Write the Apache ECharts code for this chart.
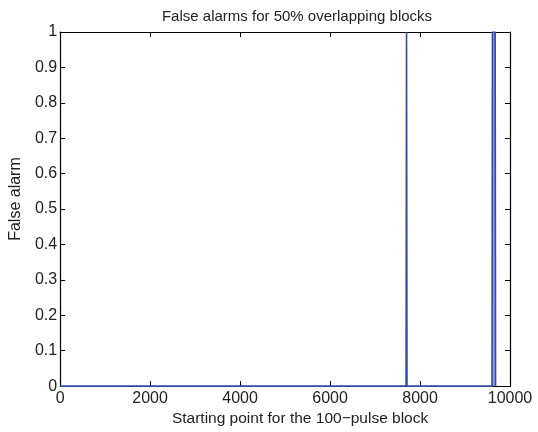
<!DOCTYPE html>
<html>
<head>
<meta charset="utf-8">
<script src="https://cdn.jsdelivr.net/npm/echarts@6/dist/echarts.min.js"></script>
<style>
  html, body { margin: 0; padding: 0; background: #fff; }
  #chart { width: 538px; height: 432px; }
</style>
</head>
<body>
<div id="chart"></div>
<script>
// Block starting points where the false-alarm flag changes
const startPoints = [0, 7690, 7700, 7710, 9600, 9610, 9670, 9680, 9690];
// False-alarm flag (0 = none, 1 = alarm) at each starting point
const falseAlarm  = [0, 0, 1, 0, 0, 1, 1, 0, 0];
const xTicks = [0, 2000, 4000, 6000, 8000, 10000];
const yTicks = [0, 0.1, 0.2, 0.3, 0.4, 0.5, 0.6, 0.7, 0.8, 0.9, 1];

const font = 'Liberation Sans, Helvetica, Arial, sans-serif';
const seriesData = startPoints.map((x, i) => [x, falseAlarm[i]]);

const chart = echarts.init(document.getElementById('chart'), null, { renderer: 'canvas' });

const boxAxis = {
  axisLine: { show: true, onZero: false, lineStyle: { color: '#000', width: 1.2 } },
  axisTick: { show: true, inside: true, length: 5, lineStyle: { color: '#000', width: 1 } },
  splitLine: { show: false }
};

chart.setOption({
  animation: false,
  backgroundColor: '#fff',
  title: {
    text: 'False alarms for 50% overlapping blocks',
    left: 292, top: 4, textAlign: 'center',
    textStyle: { fontFamily: font, fontSize: 15, fontWeight: 'normal', color: '#222' }
  },
  grid: { left: 59, right: 28, top: 32, bottom: 43, containLabel: false },
  xAxis: [
    Object.assign({
      type: 'value', position: 'bottom', min: xTicks[0], max: xTicks[xTicks.length - 1], interval: 2000,
      name: 'Starting point for the 100\u2212pulse block', nameLocation: 'middle', nameGap: 19,
      nameTextStyle: { fontFamily: font, fontSize: 15.5, color: '#222', padding: [0, 0, 0, 30] },
      axisLabel: { fontFamily: font, fontSize: 16, color: '#222', margin: 4,
        formatter: v => String(v) }
    }, boxAxis),
    Object.assign({
      type: 'value', position: 'top', min: xTicks[0], max: xTicks[xTicks.length - 1], interval: 2000,
      axisLabel: { show: false }
    }, boxAxis)
  ],
  yAxis: [
    Object.assign({
      type: 'value', position: 'left', min: yTicks[0], max: yTicks[yTicks.length - 1], interval: 0.1,
      name: 'False alarm', nameLocation: 'middle', nameGap: 32,
      nameTextStyle: { fontFamily: font, fontSize: 16, color: '#222', padding: [0, 0, 0, 20] },
      axisLabel: { fontFamily: font, fontSize: 16, color: '#222', margin: 3,
        formatter: v => String(Math.round(v * 10) / 10) }
    }, boxAxis),
    Object.assign({
      type: 'value', position: 'right', min: yTicks[0], max: yTicks[yTicks.length - 1], interval: 0.1,
      axisLabel: { show: false }
    }, boxAxis)
  ],
  series: [{
    type: 'line',
    data: seriesData,
    xAxisIndex: 0, yAxisIndex: 0,
    symbol: 'none',
    lineStyle: { color: '#3348a8', width: 1.6 },
    areaStyle: { color: '#8a9fdd', opacity: 1 },
    z: 1
  }]
});
</script>
</body>
</html>
